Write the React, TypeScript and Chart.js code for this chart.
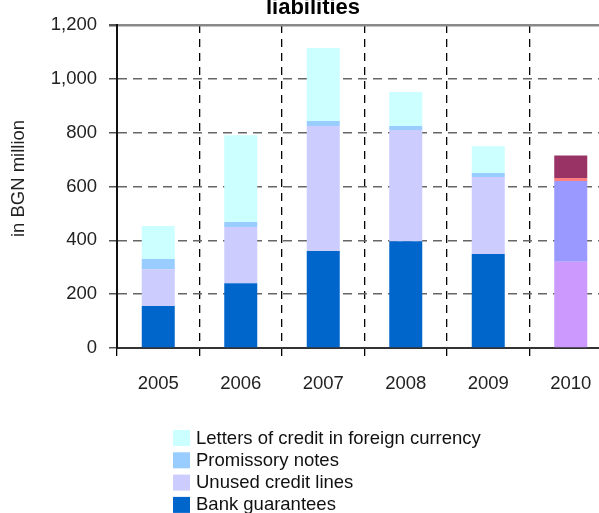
import React, { useEffect, useRef } from "react";
import { Chart, registerables } from "chart.js";

Chart.register(...registerables);

const categories = ["2005", "2006", "2007", "2008", "2009", "2010"];
const bankGuarantees = [156, 241, 360, 397, 349, 320];
const unusedCreditLines = [137, 209, 465, 413, 286, 300];
const promissoryNotes = [38, 18, 18, 15, 15, 12];
const lettersOfCredit = [122, 322, 272, 126, 100, 83];

const yTicks = [0, 200, 400, 600, 800, 1000, 1200];
const yAxisTitle = "in BGN million";

const FONT = '"Liberation Sans Narrow", "Arial Narrow", "Liberation Sans", Arial, sans-serif';

// series colour for 2005-2009, distinct colour for the 2010 column
const seriesColors = (main: string, last: string) =>
  categories.map((c) => (c === "2010" ? last : main));

// stacked legend column under the plot, top series first
const legendRows = {
  id: "legendRows",
  afterDraw(chart: any) {
    const { ctx, chartArea } = chart;
    const items = chart.data.datasets.slice().reverse();
    ctx.save();
    ctx.font = `18.5px ${FONT}`;
    ctx.textBaseline = "middle";
    ctx.textAlign = "left";
    items.forEach((ds: any, i: number) => {
      const y = chartArea.bottom + 82 + i * 22.3;
      ctx.fillStyle = ds.backgroundColor[0];
      ctx.fillRect(173, y, 17, 16);
      ctx.fillStyle = "#111";
      ctx.fillText(ds.label, 196, y + 8.5);
    });
    ctx.restore();
  },
};

// rotated value-axis caption
const yCaption = {
  id: "yCaption",
  afterDraw(chart: any) {
    const { ctx, chartArea } = chart;
    ctx.save();
    ctx.translate(18.5, chartArea.top + 153.5);
    ctx.rotate(-Math.PI / 2);
    ctx.font = `18.5px ${FONT}`;
    ctx.fillStyle = "#222";
    ctx.textAlign = "center";
    ctx.textBaseline = "middle";
    ctx.fillText(yAxisTitle, 0, 0);
    ctx.restore();
  },
};

export default function App() {
  const canvasRef = useRef<HTMLCanvasElement | null>(null);

  useEffect(() => {
    if (!canvasRef.current) return;
    const chart = new Chart(canvasRef.current, {
      type: "bar",
      data: {
        labels: categories,
        datasets: [
          {
            label: "Bank guarantees",
            data: bankGuarantees,
            backgroundColor: seriesColors("#0066CC", "#CC99FF"),
          },
          {
            label: "Unused credit lines",
            data: unusedCreditLines,
            backgroundColor: seriesColors("#CCCCFF", "#9999FF"),
          },
          {
            label: "Promissory notes",
            data: promissoryNotes,
            backgroundColor: seriesColors("#99CCFF", "#FF8080"),
          },
          {
            label: "Letters of credit in foreign currency",
            data: lettersOfCredit,
            backgroundColor: seriesColors("#CCFFFF", "#993366"),
          },
        ],
      },
      options: {
        animation: false,
        responsive: false,
        devicePixelRatio: 1,
        layout: { padding: { left: 14, right: 14, top: 0, bottom: 132 } },
        datasets: {
          bar: { barPercentage: 0.4, categoryPercentage: 1.0, borderWidth: 0 },
        },
        plugins: {
          legend: { display: false },
          tooltip: { enabled: false },
          title: {
            display: true,
            text: "liabilities",
            color: "#000",
            font: { family: FONT, size: 22, weight: "bold" },
            padding: { top: 25, bottom: 3.6 },
          },
        },
        scales: {
          x: {
            stacked: true,
            afterFit: (scale: any) => {
              scale.height = 50;
            },
            grid: {
              offset: true,
              color: "#000",
              lineWidth: 1.3,
              drawTicks: true,
              tickLength: 8,
              tickColor: "#000",
              tickBorderDash: [],
            },
            border: { display: true, color: "#333", width: 2, dash: [8, 6] },
            ticks: {
              color: "#222",
              padding: 17,
              font: { family: FONT, size: 18.5 },
            },
          },
          y: {
            stacked: true,
            min: 0,
            max: 1200,
            afterFit: (scale: any) => {
              scale.width = 103;
            },
            afterBuildTicks: (scale: any) => {
              scale.ticks = yTicks.map((v) => ({ value: v }));
            },
            grid: {
              color: (ctx: any) => (ctx.tick && ctx.tick.value === 1200 ? "#888" : "#666"),
              lineWidth: (ctx: any) => (ctx.tick && ctx.tick.value === 1200 ? 2.5 : 1.5),
              drawTicks: true,
              tickLength: 8,
              tickColor: "#555",
              tickBorderDash: [],
            },
            border: {
              display: true,
              color: "#111",
              width: 2,
              dash: (ctx: any) => (ctx.tick && ctx.tick.value === 1200 ? [] : [9, 6]),
            },
            ticks: {
              color: "#222",
              padding: 12,
              font: { family: FONT, size: 18.5 },
              callback: (v: any) => Number(v).toLocaleString("en-US"),
            },
          },
        },
      },
      plugins: [legendRows, yCaption],
    } as any);
    return () => chart.destroy();
  }, []);

  return (
    <div
      style={{
        position: "fixed",
        left: 0,
        top: 0,
        width: 599,
        height: 513,
        overflow: "hidden",
        background: "#fff",
      }}
    >
      <div style={{ position: "absolute", left: 0, top: -30, width: 626, height: 560 }}>
        <canvas ref={canvasRef} width={626} height={560} style={{ width: 626, height: 560 }} />
      </div>
    </div>
  );
}
